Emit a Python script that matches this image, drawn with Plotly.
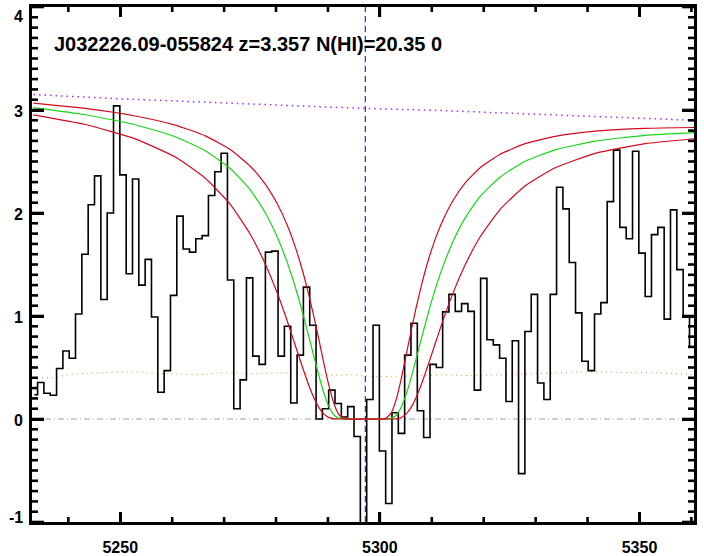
import plotly.graph_objects as go

# ---------------- data ----------------
wave = [5233.46, 5234.68, 5235.90, 5237.12, 5238.34, 5239.56, 5240.77, 5241.99, 5243.21, 5244.43,
        5245.65, 5246.87, 5248.09, 5249.31, 5250.53, 5251.75, 5252.96, 5254.18, 5255.40, 5256.62,
        5257.84, 5259.06, 5260.28, 5261.50, 5262.72, 5263.94, 5265.15, 5266.37, 5267.59, 5268.81,
        5270.03, 5271.25, 5272.47, 5273.69, 5274.91, 5276.13, 5277.34, 5278.56, 5279.78, 5281.00,
        5282.22, 5283.44, 5284.66, 5285.88, 5287.10, 5288.32, 5289.53, 5290.75, 5291.97, 5293.19,
        5294.41, 5295.63, 5296.85, 5298.07, 5299.29, 5300.51, 5301.72, 5302.94, 5304.16, 5305.38,
        5306.60, 5307.82, 5309.04, 5310.26, 5311.48, 5312.70, 5313.91, 5315.13, 5316.35, 5317.57,
        5318.79, 5320.01, 5321.23, 5322.45, 5323.67, 5324.89, 5326.10, 5327.32, 5328.54, 5329.76,
        5330.98, 5332.20, 5333.42, 5334.64, 5335.86, 5337.08, 5338.29, 5339.51, 5340.73, 5341.95,
        5343.17, 5344.39, 5345.61, 5346.83, 5348.05, 5349.27, 5350.48, 5351.70, 5352.92, 5354.14,
        5355.36, 5356.58, 5357.80, 5359.02, 5360.24]
flux = [0.235, 0.355, 0.25, 0.23, 0.49, 0.66, 0.59, 1.02, 1.60, 2.08,
        2.36, 1.16, 2.00, 3.04, 2.37, 1.41, 2.33, 1.30, 1.55, 0.99,
        0.26, 0.47, 1.20, 1.97, 1.65, 1.62, 1.75, 1.78, 2.17, 2.40,
        2.58, 1.35, 0.10, 0.38, 1.37, 0.61, 0.53, 1.62, 1.63, 0.61,
        0.90, 0.155, 0.62, 1.28, 0.91, 0.0, 0.10, 0.28, 0.15, 0.02,
        0.12, -0.17, -1.30, 0.19, 0.91, -0.31, -0.82, 0.06, -0.14, 0.62,
        0.93, 0.08, -0.18, 0.53, 0.50, 1.04, 1.21, 1.045, 1.12, 1.045,
        0.28, 1.365, 0.77, 0.72, 0.59, 0.17, 0.76, -0.53, 0.85, 1.21,
        0.35, 0.19, 1.21, 2.25, 2.04, 1.52, 1.03, 0.56, 0.47, 1.02,
        1.13, 2.11, 2.61, 1.86, 1.75, 2.60, 1.61, 1.19, 1.79, 1.86,
        0.97, 2.03, 1.45, 1.00, 0.70]

cont_wave = [5233.3, 5249.4, 5294.4, 5311.6, 5337.3, 5360.5]
cont_flux = [3.15, 3.11, 3.02, 2.995, 2.945, 2.90]

err_wave = [5233.0, 5237.0, 5240.0, 5244.0, 5252.0, 5258.0, 5265.0, 5270.0, 5276.0, 5282.0,
            5288.0, 5294.0, 5300.0, 5306.0, 5312.0, 5318.0, 5324.0, 5330.0, 5336.0, 5342.0,
            5348.0, 5354.0, 5360.5]
err_flux = [0.40, 0.40, 0.43, 0.445, 0.46, 0.44, 0.43, 0.45, 0.44, 0.45,
            0.42, 0.43, 0.41, 0.42, 0.43, 0.42, 0.43, 0.44, 0.45, 0.46,
            0.45, 0.45, 0.43]

# model curves
model_wave = [5233.25, 5243.26, 5252.89, 5260.59, 5266.37, 5271.18, 5275.03, 5277.92, 5280.23, 5282.16,
              5283.70, 5285.05, 5286.20, 5287.36, 5288.32, 5289.28, 5290.25, 5291.21, 5292.17, 5293.33,
              5297.18, 5301.03, 5302.19, 5303.15, 5304.11, 5305.07, 5306.04, 5307.00, 5308.16, 5309.31,
              5310.66, 5312.20, 5314.12, 5316.44, 5319.32, 5323.18, 5327.99, 5333.77, 5341.47, 5351.10,
              5360.53]
fit_flux = [3.023, 2.954, 2.857, 2.740, 2.604, 2.432, 2.225, 2.002, 1.766, 1.519,
            1.282, 1.044, 0.823, 0.594, 0.408, 0.243, 0.114, 0.036, 0.006, 0.0,
            0.0, 0.0, 0.006, 0.036, 0.114, 0.240, 0.404, 0.587, 0.812, 1.028,
            1.259, 1.489, 1.728, 1.953, 2.162, 2.350, 2.502, 2.613, 2.698, 2.754,
            2.781]
low_n_flux = [3.067, 3.015, 2.942, 2.853, 2.749, 2.616, 2.454, 2.280, 2.089, 1.881,
              1.671, 1.449, 1.229, 0.979, 0.755, 0.526, 0.312, 0.141, 0.039, 0.002,
              0.0, 0.004, 0.060, 0.191, 0.390, 0.622, 0.860, 1.085, 1.329, 1.539,
              1.746, 1.937, 2.124, 2.292, 2.440, 2.571, 2.673, 2.744, 2.794, 2.822,
              2.830]
high_n_flux = [2.953, 2.859, 2.720, 2.543, 2.338, 2.084, 1.794, 1.505, 1.223, 0.951,
               0.716, 0.510, 0.343, 0.198, 0.106, 0.045, 0.013, 0.002, 0.0, 0.0,
               0.0, 0.0, 0.0, 0.002, 0.015, 0.050, 0.115, 0.212, 0.359, 0.528,
               0.733, 0.963, 1.227, 1.498, 1.769, 2.036, 2.264, 2.439, 2.579, 2.673,
               2.721]

zero_level = 0.0
line_center = 5297.2
x_range = [5233.0, 5360.5]
y_range = [-1.0, 4.0]
x_major_ticks = [5250, 5300, 5350]
x_minor_ticks = [5240, 5260, 5270, 5280, 5290, 5310, 5320, 5330, 5340, 5360]
y_tick_values = [-1, 0, 1, 2, 3, 4]
y_tick_labels = ["-1", "0", "1", "2", "3", "4"]
y_minor_ticks = [round(i / 10, 1) for i in range(-9, 40) if i % 10 != 0]
title_text = "J032226.09-055824 z=3.357 N(HI)=20.35 0"
title_pos = (5236.8, 3.64)

# ---------------- layout geometry ----------------
W, H = 704, 556
M = dict(l=32, r=10, t=7, b=34)
plot_w = W - M["l"] - M["r"]
plot_h = H - M["t"] - M["b"]
px_per_x = plot_w / (x_range[1] - x_range[0])
px_per_y = plot_h / (y_range[1] - y_range[0])

# ---------------- figure ----------------
fig = go.Figure()

fig.add_trace(go.Scatter(x=err_wave, y=err_flux, mode="lines",
                         line=dict(color="#e6a35a", width=1.2, dash="1px,4px"),
                         hoverinfo="skip"))
fig.add_trace(go.Scatter(x=cont_wave, y=cont_flux, mode="lines",
                         line=dict(color="#9a32ee", width=1.5, dash="1.5px,4px"),
                         hoverinfo="skip"))
fig.add_trace(go.Scatter(x=wave, y=flux, mode="lines", line_shape="hvh",
                         line=dict(color="black", width=1.6)))
fig.add_trace(go.Scatter(x=model_wave, y=fit_flux, mode="lines",
                         line=dict(color="#1ad41a", width=1.2, shape="spline", smoothing=0.5)))
fig.add_trace(go.Scatter(x=model_wave, y=high_n_flux, mode="lines",
                         line=dict(color="#d10a1e", width=1.2, shape="spline", smoothing=0.5)))
fig.add_trace(go.Scatter(x=model_wave, y=low_n_flux, mode="lines",
                         line=dict(color="#d10a1e", width=1.2, shape="spline", smoothing=0.5)))


# inward tick marks on all four sides, drawn as line segments on the axis scales
def tick_segments(major_len_px, minor_len_px, major, minor, horizontal):
    xs, ys = [], []
    for vals, ln in ((major, major_len_px), (minor, minor_len_px)):
        for v in vals:
            if horizontal:   # ticks on left/right edges (y ticks)
                d = ln / px_per_x
                xs += [x_range[0], x_range[0] + d, None, x_range[1], x_range[1] - d, None]
                ys += [v, v, None, v, v, None]
            else:            # ticks on bottom/top edges (x ticks)
                d = ln / px_per_y
                xs += [v, v, None, v, v, None]
                ys += [y_range[0], y_range[0] + d, None, y_range[1], y_range[1] - d, None]
    return xs, ys


for major_len, minor_len, major, minor, horiz in ((10, 5, x_major_ticks, x_minor_ticks, False),
                                                  (12, 6, y_tick_values, y_minor_ticks, True)):
    tx, ty = tick_segments(major_len, minor_len, major, minor, horiz)
    fig.add_trace(go.Scatter(x=tx, y=ty, mode="lines", connectgaps=False,
                             line=dict(color="black", width=2.6), hoverinfo="skip"))

fig.add_hline(y=zero_level, line=dict(color="#a0a0a0", width=1, dash="6px,3px,1px,3px"), layer="below")
fig.add_vline(x=line_center, line=dict(color="#2a2acc", width=1.2, dash="6px,4px"))

fig.add_annotation(x=title_pos[0], y=title_pos[1], xref="x", yref="y",
                   text=title_text, showarrow=False, xanchor="left", yanchor="middle",
                   font=dict(family="Liberation Sans", size=20, color="black", weight="bold"))

tick_font = dict(family="Liberation Sans", size=16, color="black", weight="bold")

# y tick labels (IDL pulls the end labels inward)
for val, lab in zip(y_tick_values, y_tick_labels):
    shift = -1
    if val == y_range[1]:
        shift = -9
    elif val == y_range[0]:
        shift = 5
    fig.add_annotation(x=-0.011, y=val, xref="paper", yref="y", text=lab,
                       showarrow=False, xanchor="right", yanchor="middle", yshift=shift,
                       font=tick_font)

fig.update_layout(
    width=W, height=H, showlegend=False,
    margin=M,
    plot_bgcolor="white", paper_bgcolor="white",
    xaxis=dict(range=x_range, tickmode="array", tickvals=x_major_ticks,
               ticktext=[str(v) for v in x_major_ticks],
               ticks="inside", ticklen=10, tickwidth=3, tickcolor="black",
               showline=True, linewidth=3, linecolor="black", mirror="ticks",
               showgrid=False, zeroline=False, tickfont=tick_font, ticklabelstandoff=9,
               automargin=False),
    yaxis=dict(range=y_range, tickmode="array", tickvals=y_tick_values,
               ticks="inside", ticklen=12, tickwidth=3, tickcolor="black",
               showline=True, linewidth=3, linecolor="black", mirror="ticks",
               showgrid=False, zeroline=False, showticklabels=False, automargin=False),
)

fig.write_html("out.html", config={"displayModeBar": False},
               post_script="document.body.style.margin='0';")
